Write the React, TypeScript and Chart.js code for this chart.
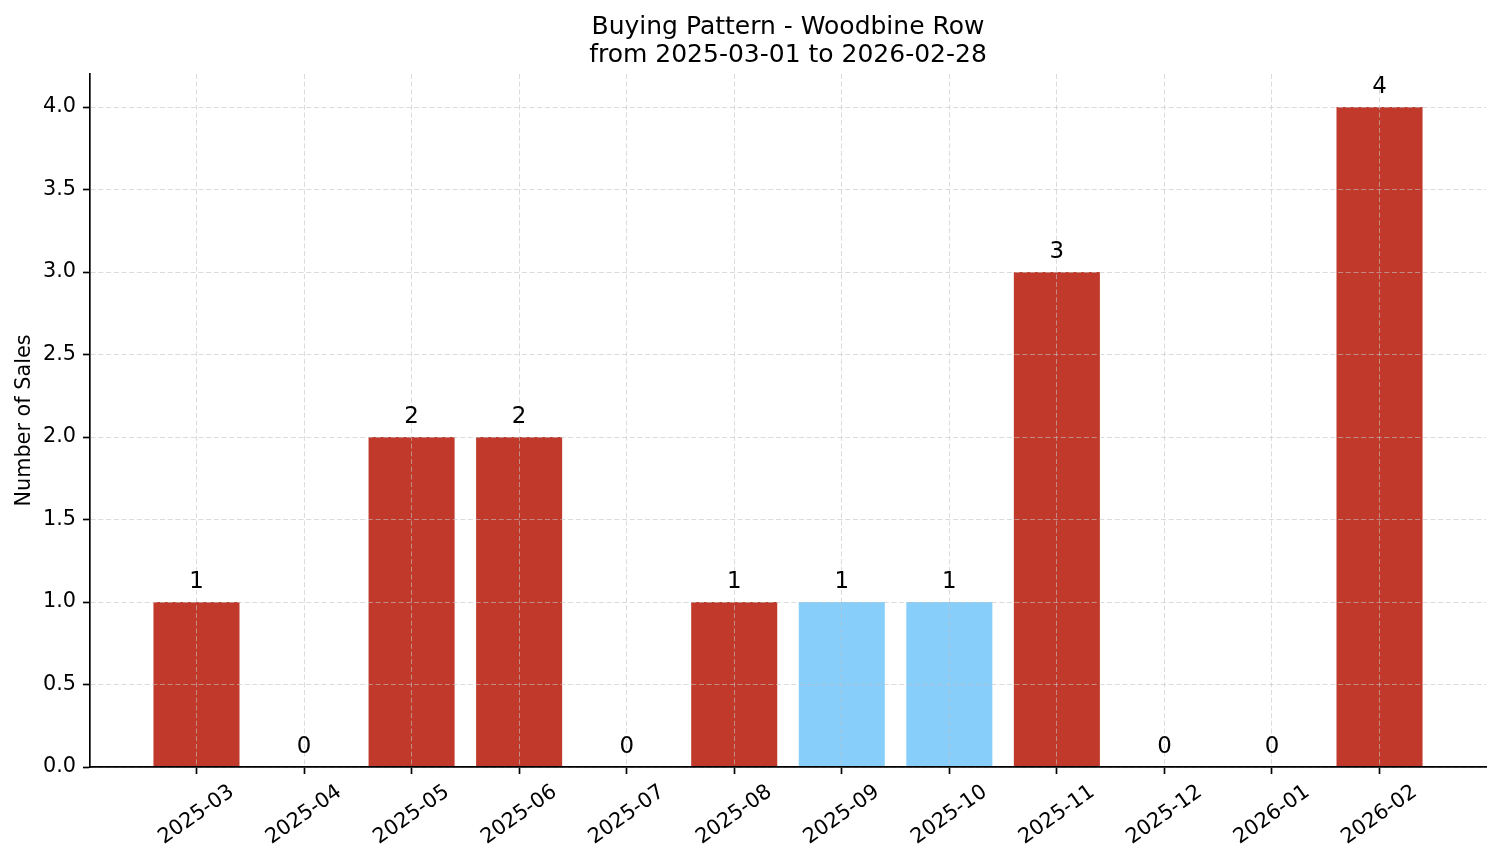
import React, { useEffect, useRef } from 'react';
import { Chart, registerables } from 'chart.js';

Chart.register(...registerables);

// datos
const months = [
  '2025-03', '2025-04', '2025-05', '2025-06', '2025-07', '2025-08',
  '2025-09', '2025-10', '2025-11', '2025-12', '2026-01', '2026-02',
];
const sales = [1, 0, 2, 2, 0, 1, 1, 1, 3, 0, 0, 4];
const highlightMonths = ['2025-09', '2025-10'];
const yTicks = [0, 0.5, 1, 1.5, 2, 2.5, 3, 3.5, 4];
const titleLines = ['Buying Pattern - Woodbine Row', 'from 2025-03-01 to 2026-02-28'];
const yAxisLabel = 'Number of Sales';

const FONT = 'DejaVu Sans';
const RED = '#c0392b';
const BLUE = '#87cefa';
const GRID = 'rgba(195, 195, 195, 0.6)';

const App = () => {
    const chartRef = useRef<HTMLCanvasElement>(null);
    const chartInstance = useRef<Chart | null>(null);

    useEffect(() => {
        if (!chartRef.current) return;
        const ctx = chartRef.current.getContext('2d');
        if (!ctx) return;

        if (chartInstance.current) {
            chartInstance.current.destroy();
        }

        // etiquetas del eje x giradas y centradas en cada mes
        const rotatedTickLabels = {
            id: 'rotatedTickLabels',
            afterDraw: (chart: Chart) => {
                const c = chart.ctx;
                const xs = chart.scales.x;
                c.save();
                c.font = `20.8px "${FONT}"`;
                c.fillStyle = '#000';
                c.textAlign = 'center';
                c.textBaseline = 'middle';
                months.forEach((m, i) => {
                    const x = xs.getPixelForValue(i);
                    c.save();
                    c.translate(x, xs.top + 48);
                    c.rotate(-35 * Math.PI / 180);
                    c.fillText(m, 0, 0);
                    c.restore();
                });
                c.restore();
            }
        };

        // valores encima de cada barra
        const valueLabels = {
            id: 'valueLabels',
            afterDraw: (chart: Chart) => {
                const c = chart.ctx;
                const xs = chart.scales.x;
                const ys = chart.scales.y;
                c.save();
                c.font = `22.9px "${FONT}"`;
                c.fillStyle = '#000';
                c.textAlign = 'center';
                c.textBaseline = 'alphabetic';
                sales.forEach((v, i) => {
                    c.fillText(String(v), xs.getPixelForValue(i), ys.getPixelForValue(v + 0.05) - 5.4);
                });
                c.restore();
            }
        };

        // la rejilla va por encima de las barras, como en el original
        const gridOpts = {
            z: 1,
            color: GRID,
            lineWidth: 1,
            offset: false,
            drawTicks: true,
            tickLength: 7,
            tickColor: '#000',
            tickWidth: 1.67,
        };
        const borderOpts = { display: true, z: 2, color: '#000', width: 1.67, dash: [5, 2.7] };

        chartInstance.current = new Chart(ctx, {
            type: 'bar',
            data: {
                datasets: [{
                    data: sales.map((v, i) => ({ x: i, y: v })),
                    backgroundColor: months.map(m => (highlightMonths.includes(m) ? BLUE : RED)),
                    barPercentage: 0.8,
                    categoryPercentage: 1,
                    borderWidth: 0,
                }]
            },
            plugins: [rotatedTickLabels, valueLabels],
            options: {
                responsive: true,
                maintainAspectRatio: false,
                animation: false,
                layout: { padding: { left: 0, right: 15, top: 0, bottom: 0 } },
                plugins: {
                    legend: { display: false },
                    tooltip: { enabled: false },
                    title: {
                        display: true,
                        fullSize: false,
                        text: titleLines,
                        color: '#000',
                        font: { family: FONT, size: 25, weight: 'normal', lineHeight: 28 / 25 },
                        padding: { top: 13, bottom: 5 },
                    },
                },
                scales: {
                    x: {
                        type: 'linear',
                        min: -0.99,
                        max: 11.99,
                        offset: false,
                        afterBuildTicks: (s: any) => { s.ticks = months.map((_, i) => ({ value: i })); },
                        afterFit: (s: any) => { s.height = 96; },
                        ticks: { display: false },
                        grid: gridOpts,
                        border: borderOpts,
                    },
                    y: {
                        type: 'linear',
                        min: 0,
                        max: 4.2,
                        afterBuildTicks: (s: any) => { s.ticks = yTicks.map(v => ({ value: v })); },
                        afterFit: (s: any) => { s.width = 90; },
                        ticks: {
                            z: 1,
                            color: '#000',
                            font: { family: FONT, size: 20.8 },
                            padding: 7,
                            callback: (v: any) => Number(v).toFixed(1),
                        },
                        title: {
                            display: true,
                            text: yAxisLabel,
                            color: '#000',
                            font: { family: FONT, size: 20.8 },
                            padding: { top: 12.5, bottom: 0 },
                        },
                        grid: gridOpts,
                        border: borderOpts,
                    },
                },
            } as any,
        });

        return () => {
            if (chartInstance.current) {
                chartInstance.current.destroy();
                chartInstance.current = null;
            }
        };
    }, []);

    return (
        <div style={{ position: 'absolute', left: 0, top: 0, width: '1501px', height: '863px', background: '#fff' }}>
            <canvas ref={chartRef}></canvas>
        </div>
    );
};

export default App;
